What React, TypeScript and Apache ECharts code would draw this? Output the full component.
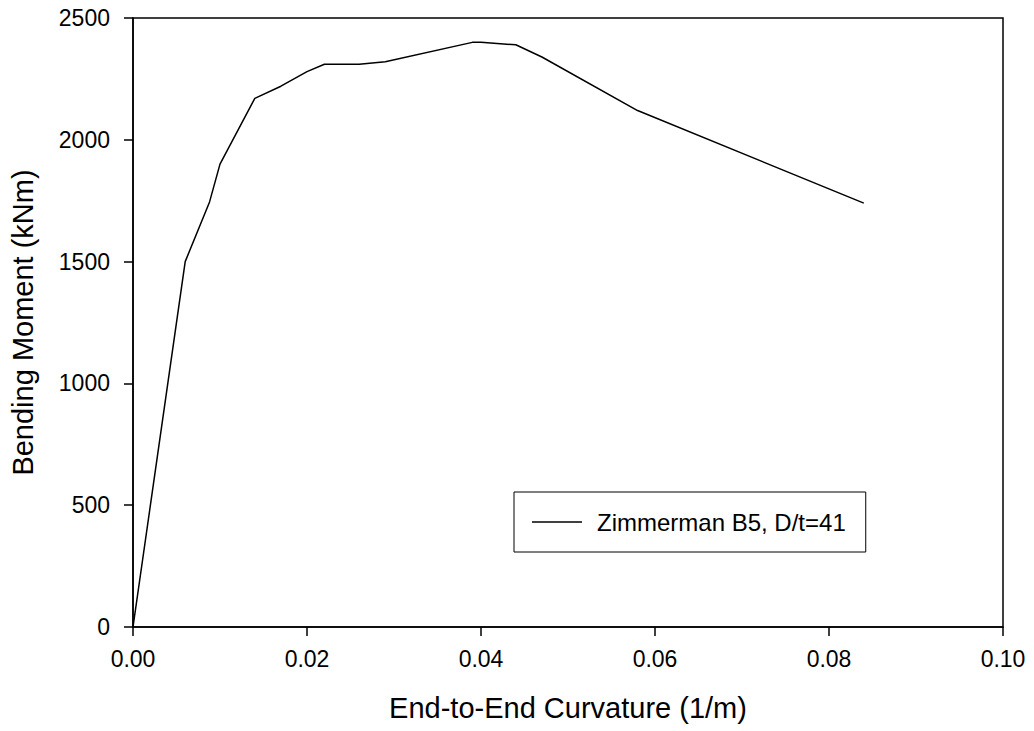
import React, { useEffect, useRef } from "react";
import * as echarts from "echarts";

const curvature = [0, 0.006, 0.0088, 0.01, 0.014, 0.017, 0.02, 0.022, 0.026, 0.029, 0.039, 0.04, 0.044, 0.047, 0.058, 0.084];
const moment = [0, 1500, 1745, 1900, 2170, 2220, 2280, 2310, 2310, 2320, 2400, 2400, 2390, 2340, 2120, 1740];
const seriesName = "Zimmerman B5, D/t=41";
const xTitle = "End-to-End Curvature (1/m)";
const yTitle = "Bending Moment (kNm)";

const FONT = "'Liberation Sans', Arial, sans-serif";

export default function App() {
  const ref = useRef<HTMLDivElement>(null);
  useEffect(() => {
    if (!ref.current) return;
    const chart = echarts.init(ref.current, undefined, { renderer: "svg" });
    chart.setOption({
      animation: false,
      backgroundColor: "#fff",
      textStyle: { fontFamily: FONT, color: "#000" },
      grid: {
        left: 133,
        right: 31,
        top: 18,
        bottom: 104,
        containLabel: false,
        show: true,
        borderColor: "#000",
        borderWidth: 1.5,
      },
      legend: {
        show: true,
        left: 514,
        top: 492,
        orient: "vertical",
        data: [seriesName],
        borderColor: "#000",
        borderWidth: 1,
        padding: [18, 20, 18, 18],
        icon: "rect",
        itemWidth: 50,
        itemHeight: 1.5,
        itemStyle: { color: "#000" },
        textStyle: { fontFamily: FONT, fontSize: 24, color: "#000", padding: [0, 0, 0, 10] },
      },
      xAxis: {
        type: "value",
        min: 0,
        max: 0.1,
        interval: 0.02,
        name: xTitle,
        nameLocation: "middle",
        nameGap: 66,
        nameTextStyle: { fontFamily: FONT, fontSize: 29, color: "#000" },
        axisLine: { show: true, onZero: false, lineStyle: { color: "#000", width: 1.5 } },
        axisTick: { show: true, inside: false, length: 9, lineStyle: { color: "#000", width: 1.5 } },
        axisLabel: {
          margin: 20,
          fontFamily: FONT,
          fontSize: 23,
          color: "#000",
          formatter: (v: number) => v.toFixed(2),
        },
        splitLine: { show: false },
      },
      yAxis: {
        type: "value",
        min: 0,
        max: 2500,
        interval: 500,
        name: yTitle,
        nameLocation: "middle",
        nameGap: 96,
        nameTextStyle: { fontFamily: FONT, fontSize: 29, color: "#000" },
        axisLine: { show: true, onZero: false, lineStyle: { color: "#000", width: 1.5 } },
        axisTick: { show: true, inside: false, length: 9, lineStyle: { color: "#000", width: 1.5 } },
        axisLabel: {
          margin: 23,
          fontFamily: FONT,
          fontSize: 23,
          color: "#000",
          formatter: (v: number) => String(v),
        },
        splitLine: { show: false },
      },
      series: [
        {
          name: seriesName,
          type: "line",
          data: curvature.map((c, i) => [c, moment[i]]),
          symbol: "none",
          lineStyle: { color: "#000", width: 1.5 },
          itemStyle: { color: "#000" },
        },
      ],
    });
    return () => chart.dispose();
  }, []);
  return (
    <div
      ref={ref}
      style={{ position: "absolute", left: 0, top: 0, width: 1034, height: 731 }}
    />
  );
}
